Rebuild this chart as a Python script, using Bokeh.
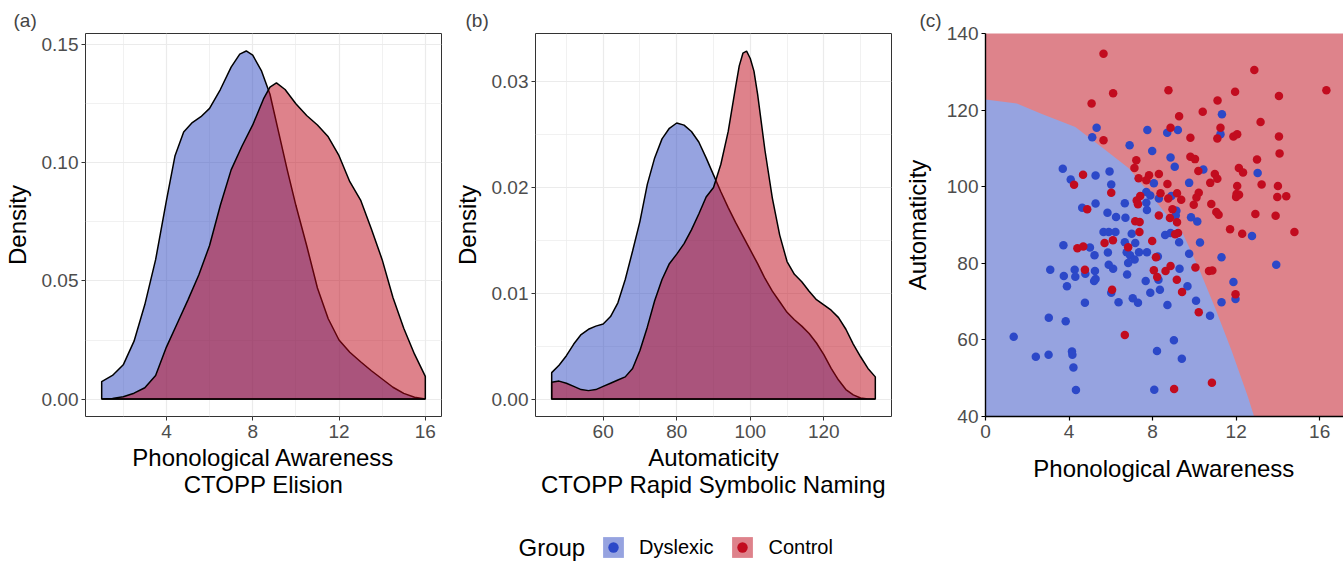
from bokeh.plotting import figure
from bokeh.layouts import row, column
from bokeh.models import (FixedTicker, Legend, LegendItem, Label, Range1d, PrintfTickFormatter,
                          ColumnDataSource)
from bokeh.embed import file_html
from bokeh.resources import INLINE

# ---------------- data ----------------
# (a) density of Phonological Awareness (CTOPP Elision)
pa_dys_x = [1.0, 1.5, 2.0, 2.5, 3.0, 3.5, 4.0, 4.4, 4.8, 5.2, 5.6, 6.0, 6.5, 7.0, 7.4, 7.7, 8.0, 8.4, 8.8,
            9.2, 9.6, 10.0, 10.5, 11.0, 11.5, 12.0, 12.5, 13.0, 13.5, 14.0, 14.5, 15.0, 15.5, 16.0]
pa_dys_d = [0.0074, 0.0100, 0.0145, 0.0245, 0.0400, 0.0590, 0.0840, 0.1030, 0.1130, 0.1170, 0.1195, 0.1230,
            0.1310, 0.1405, 0.1460, 0.1473, 0.1455, 0.1390, 0.1290, 0.1130, 0.0970, 0.0820, 0.0650, 0.0470,
            0.0340, 0.0250, 0.0198, 0.0158, 0.0120, 0.0085, 0.0050, 0.0024, 0.0008, 0.0]
pa_ctl_x = [1.0, 1.5, 2.0, 2.5, 3.0, 3.5, 4.0, 4.5, 5.0, 5.5, 6.0, 6.5, 7.0, 7.5, 8.0, 8.5, 8.8, 9.1, 9.5,
            10.0, 10.5, 11.0, 11.5, 12.0, 12.5, 13.0, 13.5, 14.0, 14.5, 15.0, 15.5, 16.0]
pa_ctl_d = [0.0, 0.0003, 0.0010, 0.0025, 0.0048, 0.0100, 0.0220, 0.0320, 0.0420, 0.0525, 0.0650, 0.0820,
            0.0970, 0.1070, 0.1160, 0.1270, 0.1320, 0.1338, 0.1310, 0.1250, 0.1200, 0.1160, 0.1110, 0.1030,
            0.0920, 0.0842, 0.0720, 0.0590, 0.0430, 0.0300, 0.0190, 0.0096]

# (b) density of Automaticity (CTOPP Rapid Symbolic Naming)
rsn_dys_x = [46, 48, 50, 52, 54, 56, 58, 60, 62, 64, 66, 68, 70, 72, 74, 76, 78, 80, 82, 84, 86, 88, 90,
             92, 94, 96, 98, 100, 102, 104, 106, 108, 110, 112, 114, 116, 118, 120, 122, 124, 126, 128,
             130, 132, 134]
rsn_dys_d = [0.0025, 0.0032, 0.0041, 0.0052, 0.0061, 0.0066, 0.0069, 0.0071, 0.0078, 0.0091, 0.0113,
             0.0140, 0.0168, 0.0203, 0.0228, 0.0246, 0.0256, 0.0261, 0.0259, 0.0253, 0.0243, 0.0228,
             0.0212, 0.0196, 0.0181, 0.0167, 0.0154, 0.0141, 0.0128, 0.0114, 0.0102, 0.0092, 0.0082,
             0.0075, 0.0069, 0.0062, 0.0053, 0.0042, 0.0029, 0.0018, 0.0009, 0.0004, 0.0001, 0.0, 0.0]
rsn_ctl_x = [46, 48, 50, 52, 54, 56, 58, 60, 62, 64, 66, 68, 70, 72, 74, 76, 78, 80, 82, 84, 86, 88, 90,
             92, 94, 96, 97, 98, 99, 100, 101, 102, 104, 106, 108, 110, 112, 114, 116, 118, 120, 122,
             124, 126, 128, 130, 132, 134]
rsn_ctl_d = [0.0016, 0.0017, 0.0015, 0.0012, 0.0009, 0.0008, 0.0009, 0.0012, 0.0015, 0.0018, 0.0021,
             0.0029, 0.0046, 0.0068, 0.0093, 0.0113, 0.0128, 0.0137, 0.0147, 0.0160, 0.0175, 0.0191,
             0.0200, 0.0222, 0.0253, 0.0295, 0.0315, 0.0327, 0.0329, 0.0322, 0.0310, 0.0288, 0.0235,
             0.0190, 0.0155, 0.0130, 0.0118, 0.0111, 0.0102, 0.0094, 0.0089, 0.0084, 0.0077, 0.0066,
             0.0052, 0.0040, 0.0029, 0.0021]

# (c) individual scores
dys_pts = [(11.32, 118.9), (5.32, 115.4), (7.75, 114.8), (8.70, 114.1), (9.21, 114.8), (11.25, 113.7),
           (5.11, 112.9), (6.9, 110.8), (7.98, 109.3), (8.86, 107.6), (9.06, 105.2), (3.7, 104.7),
           (10.43, 104.5), (13.03, 103.6), (5.94, 104.0), (4.08, 101.9), (5.27, 102.9), (6.02, 100.6),
           (8.06, 100.9), (9.75, 101.0), (7.70, 98.6), (8.3, 96.9), (7.89, 97.7), (8.9, 97.6), (6.67, 95.7),
           (5.27, 95.6), (7.70, 95.8), (4.63, 94.5), (7.73, 93.9), (9.14, 93.7), (5.84, 93.2), (6.25, 92.1),
           (6.7, 91.9), (9.11, 92.5), (9.84, 92.0), (10.14, 90.9), (5.65, 88.2), (5.9, 88.2), (6.22, 88.2),
           (7.0, 87.7), (8.6, 87.4), (8.86, 87.9), (12.76, 87.1), (3.73, 84.7), (5.0, 84.1), (6.67, 85.5),
           (7.17, 85.3), (9.27, 85.5), (10.27, 85.4), (5.22, 82.1), (5.86, 82.8), (6.76, 82.9), (6.92, 82.1),
           (7.14, 81.0), (6.83, 80.1), (7.35, 82.9), (7.73, 82.9), (8.25, 81.8), (9.75, 82.5), (11.3, 81.6),
           (13.92, 79.6), (5.9, 79.6), (6.11, 78.6), (3.1, 78.3), (4.27, 78.3), (5.24, 78.0), (3.75, 76.7),
           (4.3, 76.5), (4.78, 77.3), (5.27, 75.9), (5.2, 75.4), (6.78, 77.1), (3.9, 74.0), (7.67, 75.4),
           (9.29, 78.6), (8.28, 75.7), (9.67, 74.0), (8.35, 73.1), (7.89, 72.3), (6.02, 72.3), (11.87, 75.1),
           (11.97, 70.7), (4.76, 69.7), (6.37, 69.8), (7.05, 70.9), (7.3, 69.7), (8.71, 69.1), (10.08, 70.2),
           (11.3, 69.8), (10.75, 66.3), (3.03, 65.8), (3.84, 64.9), (1.35, 60.8), (9.02, 59.9), (8.21, 57.1),
           (9.4, 55.1), (4.14, 57.0), (4.16, 56.1), (2.41, 55.6), (3.02, 56.1), (4.21, 52.8), (4.33, 46.9),
           (8.08, 47.0)]
ctl_pts = [(5.65, 134.7), (12.87, 130.5), (8.76, 125.2), (11.95, 124.8), (16.32, 125.2), (6.11, 124.4),
           (14.05, 123.7), (5.08, 121.7), (11.11, 122.5), (10.4, 119.6), (9.27, 118.4), (13.17, 116.9),
           (8.86, 115.4), (11.25, 115.4), (11.1, 112.6), (11.87, 113.1), (12.05, 113.7), (14.05, 113.1),
           (5.65, 112.1), (9.81, 112.8), (14.08, 108.7), (9.81, 107.8), (10.03, 107.2), (7.22, 106.9),
           (13.0, 107.1), (7.13, 104.9), (10.19, 104.1), (12.13, 104.9), (12.33, 103.7), (4.67, 103.1),
           (4.24, 100.5), (8.3, 103.3), (7.83, 103.0), (7.33, 102.2), (7.70, 101.7), (8.71, 100.7),
           (10.76, 101.0), (10.98, 103.3), (11.1, 102.1), (12.05, 100.2), (13.22, 100.6), (14.0, 100.2),
           (6.02, 98.4), (8.38, 98.3), (9.17, 98.3), (10.21, 98.4), (12.02, 98.1), (12.14, 97.9), (12.0, 97.3),
           (13.97, 97.3), (14.4, 97.5), (7.41, 97.6), (8.75, 96.9), (9.37, 96.6), (10.1, 97.2), (7.24, 96.4),
           (7.3, 95.4), (9.97, 95.3), (10.81, 95.5), (4.87, 94.1), (8.95, 94.1), (11.05, 93.4), (11.16, 92.7),
           (12.92, 92.9), (13.89, 92.4), (8.3, 92.5), (8.83, 91.8), (7.17, 91.0), (7.38, 90.8), (9.17, 90.7),
           (11.71, 88.9), (7.37, 88.2), (9.22, 87.9), (9.08, 87.6), (12.29, 87.7), (14.79, 88.2), (4.4, 83.9),
           (4.68, 84.4), (5.7, 85.3), (6.1, 86.0), (6.83, 84.2), (7.98, 85.8), (8.16, 81.6), (4.76, 78.3),
           (8.06, 78.2), (8.62, 78.0), (8.86, 79.3), (8.22, 76.4), (9.16, 75.7), (10.05, 78.9), (10.7, 78.0),
           (10.86, 78.1), (9.41, 72.5), (6.06, 73.1), (11.97, 71.9), (10.21, 67.2), (6.67, 61.3), (9.03, 47.2),
           (10.84, 48.8)]
dys_pa = [p[0] for p in dys_pts]
dys_auto = [p[1] for p in dys_pts]
ctl_pa = [p[0] for p in ctl_pts]
ctl_auto = [p[1] for p in ctl_pts]

# classifier decision boundary (Dyslexic region lies below/left of it)
bound_pa = [0.0, 1.5, 2.7, 4.3, 5.6, 6.86, 7.8, 8.7, 9.4, 10.19, 10.98, 11.78, 12.57, 12.86]
bound_auto = [122.8, 121.7, 119.0, 115.6, 110.2, 104.8, 98.6, 92.5, 88.3, 79.0, 68.5, 57.2, 45.0, 40.0]

groups = ["Dyslexic", "Control"]

pa_ticks = [4, 8, 12, 16]
pa_minor = [2, 6, 10, 14]
pa_dens_ticks = [0.0, 0.05, 0.10, 0.15]
pa_dens_minor = [0.025, 0.075, 0.125]
rsn_ticks = [60, 80, 100, 120]
rsn_minor = [50, 70, 90, 110, 130]
rsn_dens_ticks = [0.0, 0.01, 0.02, 0.03]
rsn_dens_minor = [0.005, 0.015, 0.025]
sc_xticks = [0, 4, 8, 12, 16]
sc_yticks = [40, 60, 80, 100, 120, 140]

# ---------------- style ----------------
FONT = "Liberation Sans"
BLUE = "#2D47C1"
RED = "#BD0517"
BLUE_PT = "#2C48C8"
RED_PT = "#C20C1F"
BLUE_BG = "#96A3E0"
RED_BG = "#DE838B"
TICK_COL = "#4D4D4D"
H1 = 531
H2 = 30
TOP = 33
FRAME_H = 383


def style_axes(p, tick_px="19px", title_px="24px"):
    for ax in (p.xaxis[0], p.yaxis[0]):
        ax.major_label_text_font = FONT
        ax.major_label_text_font_size = tick_px
        ax.major_label_text_color = TICK_COL
        ax.axis_label_text_font = FONT
        ax.axis_label_text_font_size = title_px
        ax.axis_label_text_font_style = "normal"
        ax.axis_label_text_color = "black"
        ax.major_tick_out = 4
        ax.major_tick_in = 0
        ax.minor_tick_out = 0
        ax.minor_tick_in = 0


def set_title(p, txt, off):
    p.title.text = txt
    p.title.text_font = FONT
    p.title.text_font_size = "19px"
    p.title.text_font_style = "normal"
    p.title.align = "left"
    p.title.offset = off
    p.title.standoff = 5


def density_panel(label, xr, yr, xt, xm, yt, ym, xlabel, dys_x, dys_d, ctl_x, ctl_d,
                  width, left, right, title_off):
    p = figure(width=width, height=H1, x_range=Range1d(*xr), y_range=Range1d(*yr),
               output_backend="svg", toolbar_location=None,
               min_border_left=left, min_border_right=right, min_border_top=TOP,
               min_border_bottom=H1 - TOP - FRAME_H)
    set_title(p, label, title_off)
    p.xaxis.ticker = FixedTicker(ticks=xt, minor_ticks=xm)
    p.yaxis.ticker = FixedTicker(ticks=yt, minor_ticks=ym)
    p.xgrid.ticker = FixedTicker(ticks=xt, minor_ticks=xm)
    p.ygrid.ticker = FixedTicker(ticks=yt, minor_ticks=ym)
    p.yaxis.formatter = PrintfTickFormatter(format="%.2f")
    for g in (p.xgrid[0], p.ygrid[0]):
        g.grid_line_color = "#EBEBEB"
        g.grid_line_width = 1.2
        g.minor_grid_line_color = "#EBEBEB"
        g.minor_grid_line_width = 0.7
    p.outline_line_color = "#333333"
    p.outline_line_width = 1
    p.xaxis.axis_line_color = None
    p.yaxis.axis_line_color = None
    p.xaxis.major_tick_line_color = "#333333"
    p.yaxis.major_tick_line_color = "#333333"
    style_axes(p)
    p.xaxis.axis_label = xlabel
    p.yaxis.axis_label = "Density"
    p.xaxis.major_label_standoff = 4
    p.xaxis.axis_label_standoff = 3
    p.xaxis.axis_label_text_line_height = 1.0
    p.yaxis.major_label_standoff = 3
    p.yaxis.axis_label_standoff = 8
    p.patch([dys_x[0]] + dys_x + [dys_x[-1]], [0] + dys_d + [0],
            fill_color=BLUE, fill_alpha=0.5, line_color="black", line_width=1.5)
    p.patch([ctl_x[0]] + ctl_x + [ctl_x[-1]], [0] + ctl_d + [0],
            fill_color=RED, fill_alpha=0.5, line_color="black", line_width=1.5)
    return p


pa = density_panel("(a)", (0.25, 16.75), (-0.00737, 0.1547), pa_ticks, pa_minor, pa_dens_ticks,
                   pa_dens_minor, "Phonological Awareness\nCTOPP Elision",
                   pa_dys_x, pa_dys_d, pa_ctl_x, pa_ctl_d, 450, 83, 9, -72)
pb = density_panel("(b)", (41.6, 138.4), (-0.001646, 0.03456), rsn_ticks, rsn_minor, rsn_dens_ticks,
                   rsn_dens_minor, "Automaticity\nCTOPP Rapid Symbolic Naming",
                   rsn_dys_x, rsn_dys_d, rsn_ctl_x, rsn_ctl_d, 450, 83, 9, -70)

# ---- (c) scatter with decision regions ----
xr_c = (0, 17.14)
yr_c = (40, 140)
pc = figure(width=443, height=H1, x_range=Range1d(*xr_c), y_range=Range1d(*yr_c),
            output_backend="svg", toolbar_location=None,
            min_border_left=83, min_border_right=0, min_border_top=TOP,
            min_border_bottom=H1 - TOP - FRAME_H, background_fill_color=RED_BG)
set_title(pc, "(c)", -66)
pc.xgrid.grid_line_color = None
pc.ygrid.grid_line_color = None
pc.outline_line_color = None
pc.xaxis.ticker = FixedTicker(ticks=sc_xticks)
pc.yaxis.ticker = FixedTicker(ticks=sc_yticks)
style_axes(pc)
for ax in (pc.xaxis[0], pc.yaxis[0]):
    ax.axis_line_color = "black"
    ax.axis_line_width = 1.4
    ax.major_tick_line_color = "black"
    ax.major_tick_line_width = 1.2
pc.xaxis.axis_label = "Phonological Awareness"
pc.yaxis.axis_label = "Automaticity"
pc.xaxis.major_label_standoff = 4
pc.xaxis.axis_label_standoff = 14
pc.yaxis.major_label_standoff = 3
pc.yaxis.axis_label_standoff = 13

pc.patch(bound_pa + [xr_c[0]], bound_auto + [yr_c[0]], fill_color=BLUE_BG, line_color=None)
pc.scatter(dys_pa, dys_auto, size=8.5, fill_color=BLUE_PT, line_color=None)
pc.scatter(ctl_pa, ctl_auto, size=8.5, fill_color=RED_PT, line_color=None)

# ---- legend strip (legend proxies sit outside the strip's visible range) ----
pl = figure(width=1343, height=H2, x_range=Range1d(0, 1), y_range=Range1d(0, 1),
            output_backend="svg", toolbar_location=None, x_axis_type=None, y_axis_type=None,
            min_border=0, outline_line_color=None)
pl.xgrid.grid_line_color = None
pl.ygrid.grid_line_color = None
proxy = ColumnDataSource(data=dict(x=[5.0], y=[5.0], l=[5.0], r=[5.1], b=[5.0], t=[5.1]))
qb = pl.quad(left="l", right="r", top="t", bottom="b", source=proxy,
             fill_color=BLUE, fill_alpha=0.5, line_color=None)
sb = pl.scatter("x", "y", source=proxy, fill_color=BLUE_PT, line_color=None)
qr = pl.quad(left="l", right="r", top="t", bottom="b", source=proxy,
             fill_color=RED, fill_alpha=0.5, line_color=None)
sr = pl.scatter("x", "y", source=proxy, fill_color=RED_PT, line_color=None)
leg = Legend(items=[LegendItem(label=groups[0], renderers=[qb, sb]),
                    LegendItem(label=groups[1], renderers=[qr, sr])],
             orientation="horizontal", location=(600, 1), glyph_width=26, glyph_height=26,
             label_standoff=13, spacing=16, padding=0, margin=0, border_line_color=None,
             background_fill_alpha=0, label_text_font=FONT, label_text_font_size="20px",
             label_text_color="black", label_height=26)
pl.add_layout(leg)
pl.add_layout(Label(x=518, y=14, x_units="screen", y_units="screen", text="Group",
                    text_font=FONT, text_font_size="24px", text_color="black",
                    text_baseline="middle"))

layout = column(row(pa, pb, pc, spacing=0), pl, spacing=0)
open("out.html", "w").write(file_html(layout, INLINE))
